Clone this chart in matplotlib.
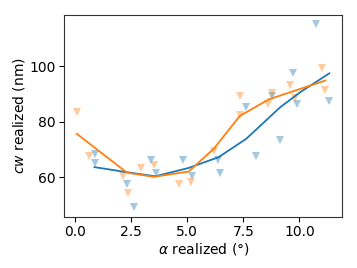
import matplotlib.pyplot as plt

# scatter points (alpha realized vs cw realized)
blue_x = [0.86, 0.89, 2.31, 2.63, 3.39, 3.62, 4.82, 5.19, 6.38, 6.47, 7.63, 8.07, 8.76, 9.12, 9.70, 9.90, 10.74, 11.34]
blue_y = [68.3, 65.2, 57.4, 49.4, 66.3, 61.4, 66.3, 60.4, 66.3, 61.4, 85.4, 67.5, 89.3, 73.4, 97.4, 86.3, 115.2, 87.3]
orange_x = [0.10, 0.63, 2.11, 2.37, 2.93, 3.53, 4.61, 5.16, 6.18, 7.34, 7.37, 8.62, 8.79, 9.60, 9.79, 11.00, 11.15]
orange_y = [83.3, 67.5, 60.4, 54.4, 63.3, 64.4, 57.4, 58.4, 69.4, 89.3, 82.4, 86.3, 90.3, 93.3, 88.4, 99.3, 91.4]

# fitted trend lines
blue_line_x = [0.86, 2.28, 3.57, 5.06, 6.40, 7.63, 9.15, 10.04, 11.34]
blue_line_y = [63.6, 61.8, 60.3, 63.3, 67.2, 73.8, 85.2, 90.6, 97.4]
orange_line_x = [0.07, 2.31, 3.50, 5.06, 6.18, 7.34, 8.63, 9.90, 11.16]
orange_line_y = [75.6, 61.6, 60.1, 62.0, 70.2, 82.0, 88.0, 91.4, 94.8]

fig = plt.figure(figsize=(3.57, 2.68), dpi=100)
ax = fig.add_axes([0.18, 0.191, 0.779, 0.754])

ax.plot(blue_x, blue_y, 'v', color='C0', alpha=0.4, markersize=5.5, markeredgewidth=0)
ax.plot(orange_x, orange_y, 'v', color='C1', alpha=0.4, markersize=5.5, markeredgewidth=0)
ax.plot(blue_line_x, blue_line_y, color='C0', linewidth=1.3)
ax.plot(orange_line_x, orange_line_y, color='C1', linewidth=1.3)

ax.set_xlim(-0.49, 11.92)
ax.set_ylim(45.7, 118.5)
ax.set_xticks([0.0, 2.5, 5.0, 7.5, 10.0])
ax.set_yticks([60, 80, 100])
ax.tick_params(labelsize=10, length=3.5, pad=2.5)
for s in ax.spines.values():
    s.set_color('#333333')
ax.set_xlabel(r'$\alpha$ realized (°)', fontsize=10, labelpad=1)
ax.set_ylabel(r'$cw$ realized (nm)', fontsize=10, labelpad=1.5)

plt.savefig('out.png', dpi=100)
